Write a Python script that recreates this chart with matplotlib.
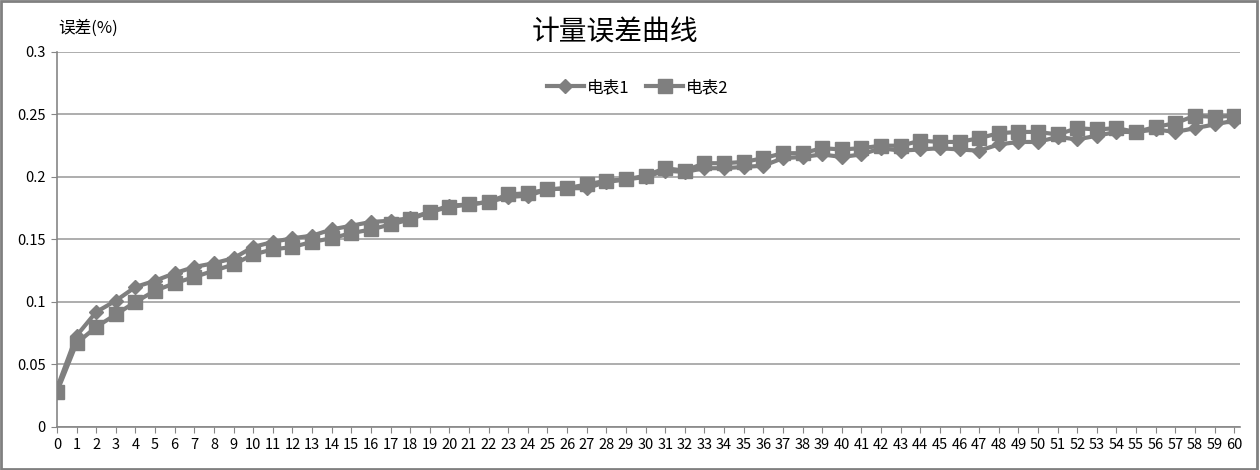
import matplotlib
matplotlib.use("Agg")
import matplotlib.pyplot as plt
from matplotlib.patches import Rectangle

plt.rcParams['font.family'] = ['Noto Sans CJK SC', 'DejaVu Sans']

x_vals = list(range(0, 61))
meter1 = [0.031, 0.073, 0.092, 0.101, 0.112, 0.117, 0.123, 0.128, 0.131, 0.135,
          0.144, 0.148, 0.151, 0.153, 0.158, 0.161, 0.164, 0.165, 0.167, 0.172,
          0.177, 0.178, 0.180, 0.184, 0.185, 0.190, 0.191, 0.191, 0.196, 0.198,
          0.200, 0.205, 0.204, 0.207, 0.207, 0.208, 0.209, 0.215, 0.216, 0.218,
          0.216, 0.218, 0.223, 0.221, 0.222, 0.223, 0.222, 0.221, 0.226, 0.228,
          0.228, 0.232, 0.230, 0.233, 0.236, 0.236, 0.238, 0.236, 0.239, 0.242,
          0.245]
meter2 = [0.028, 0.067, 0.080, 0.090, 0.100, 0.109, 0.115, 0.120, 0.125, 0.130,
          0.138, 0.142, 0.144, 0.148, 0.151, 0.155, 0.158, 0.162, 0.166, 0.172,
          0.176, 0.178, 0.180, 0.186, 0.187, 0.190, 0.191, 0.194, 0.197, 0.198,
          0.201, 0.207, 0.205, 0.211, 0.211, 0.212, 0.215, 0.219, 0.219, 0.223,
          0.222, 0.223, 0.225, 0.225, 0.229, 0.228, 0.228, 0.231, 0.235, 0.236,
          0.236, 0.234, 0.239, 0.238, 0.239, 0.236, 0.240, 0.243, 0.249, 0.248,
          0.249]
series_names = ['电表1', '电表2']
y_ticks = [0, 0.05, 0.1, 0.15, 0.2, 0.25, 0.3]
y_tick_labels = ['0', '0.05', '0.1', '0.15', '0.2', '0.25', '0.3']
title = '计量误差曲线'
y_label = '误差(%)'

fig = plt.figure(figsize=(12.6, 4.7), dpi=100)
ax = fig.add_axes([0.0452, 0.0915, 0.939, 0.798])

line_col = '#7f7f7f'
ax.plot(x_vals, meter1, color=line_col, lw=3, marker='D', markersize=7,
        label=series_names[0], zorder=3)
ax.plot(x_vals, meter2, color=line_col, lw=3, marker='s', markersize=9.5,
        label=series_names[1], zorder=3)

ax.set_xlim(0, 60.3)
ax.set_ylim(0, 0.3)
ax.set_yticks(y_ticks)
ax.set_yticklabels(y_tick_labels)
ax.set_xticks(x_vals)
ax.set_xticklabels([str(v) for v in x_vals])
ax.tick_params(axis='x', labelsize=10.5, length=4, color='#868686', pad=4)
ax.tick_params(axis='y', labelsize=10.5, length=4, color='#868686', pad=4)
ax.yaxis.grid(True, color='#a0a0a0', lw=1.2)
ax.set_axisbelow(True)
for s in ['top', 'right']:
    ax.spines[s].set_visible(False)
for s in ['left', 'bottom']:
    ax.spines[s].set_color('#868686')
    ax.spines[s].set_linewidth(1.2)

fig.text(0.488, 0.93, title, fontsize=20, ha='center', va='center')
fig.text(0.046, 0.94, y_label, fontsize=12, ha='left', va='center')

leg = ax.legend(loc='center', bbox_to_anchor=(0.491, 0.905), ncol=2, frameon=False,
                fontsize=12, handlelength=2.2, columnspacing=1.0, handletextpad=0.2)

fig.patches.append(Rectangle((0.001, 0.002), 0.997, 0.995, transform=fig.transFigure,
                             fill=False, edgecolor='#808080', lw=2))

fig.savefig('out.png', dpi=100)
